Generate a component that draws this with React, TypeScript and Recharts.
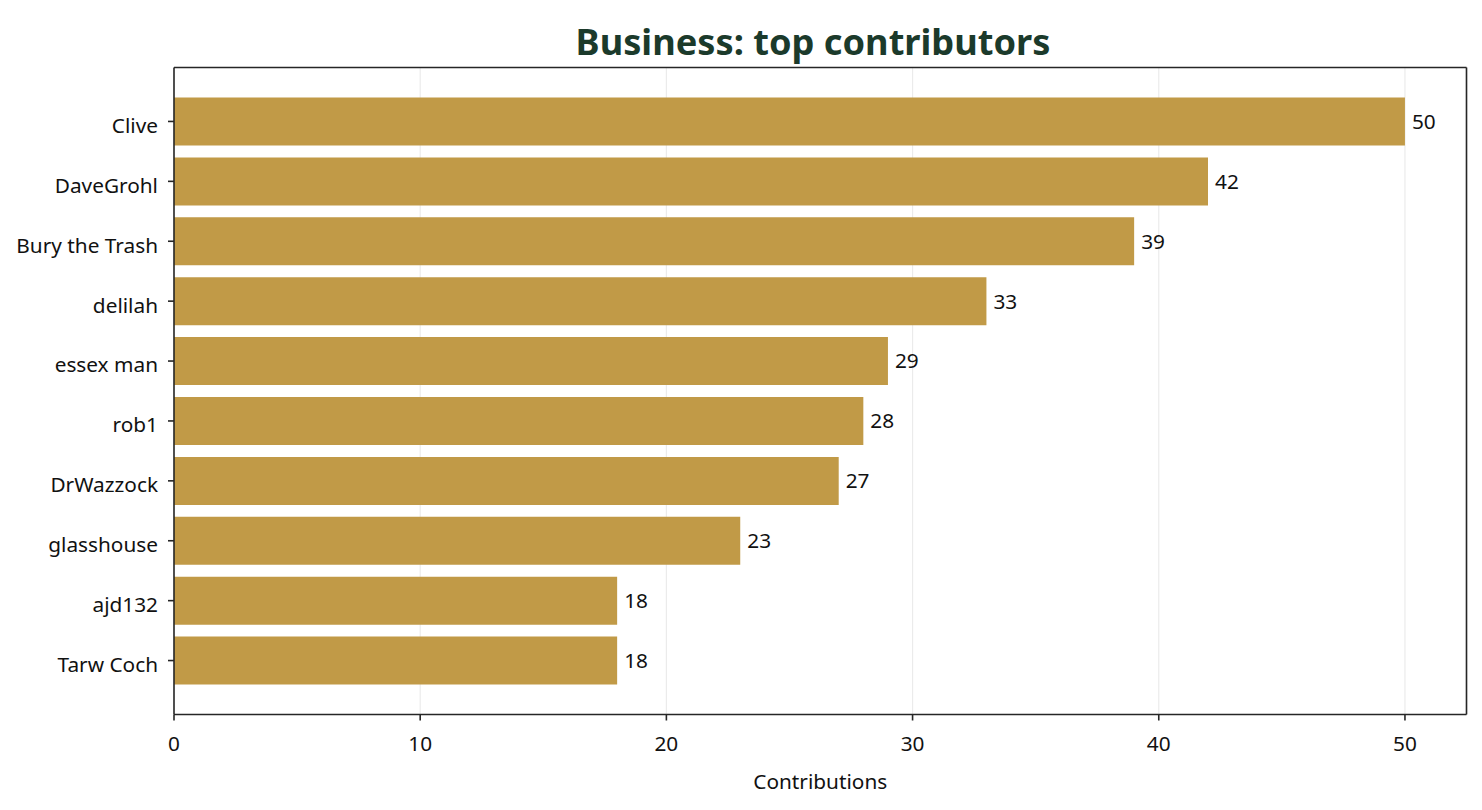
import {
  BarChart,
  Bar,
  XAxis,
  YAxis,
  CartesianGrid,
  LabelList,
} from "recharts";

const contributors = [
  "Clive",
  "DaveGrohl",
  "Bury the Trash",
  "delilah",
  "essex man",
  "rob1",
  "DrWazzock",
  "glasshouse",
  "ajd132",
  "Tarw Coch",
];
const contributions = [50, 42, 39, 33, 29, 28, 27, 23, 18, 18];
const xTicks = [0, 10, 20, 30, 40, 50];

const chartData = contributors.map((name, i) => ({
  name,
  value: contributions[i],
}));

const FONT = "'Noto Sans', sans-serif";
const AXIS = "#262626";
const tickStyle = { fontSize: 20.8, fill: "#111", fontFamily: FONT };

export default function App() {
  return (
    <div style={{ position: "absolute", left: 0, top: 0, width: 1482, height: 810, background: "#fff" }}>
      <BarChart
        width={1482}
        height={810}
        data={chartData}
        layout="vertical"
        margin={{ top: 66.5, right: 14.5, left: 0, bottom: 0 }}
        barCategoryGap="10%"
      >
        <CartesianGrid horizontal={false} stroke="#ebebeb" strokeWidth={1.2} />
        <XAxis
          type="number"
          domain={[0, 52.5]}
          ticks={xTicks}
          allowDataOverflow
          height={95.5}
          tick={tickStyle}
          tickSize={6}
          tickMargin={16}
          axisLine={{ stroke: AXIS, strokeWidth: 1.6 }}
          tickLine={{ stroke: AXIS, strokeWidth: 1.6 }}
          label={{
            value: "Contributions",
            position: "insideBottom",
            offset: 21,
            style: { fontSize: 20.8, fill: "#111", fontFamily: FONT },
          }}
        />
        <XAxis
          xAxisId="top"
          orientation="top"
          type="number"
          domain={[0, 52.5]}
          ticks={xTicks}
          height={1}
          tick={false}
          tickLine={false}
          axisLine={{ stroke: AXIS, strokeWidth: 1.6 }}
        />
        <YAxis
          type="category"
          dataKey="name"
          width={174}
          padding={{ top: 24, bottom: 24 }}
          tick={{ ...tickStyle, dy: 4 }}
          tickSize={6}
          tickMargin={10}
          interval={0}
          axisLine={{ stroke: AXIS, strokeWidth: 1.6 }}
          tickLine={{ stroke: AXIS, strokeWidth: 1.6 }}
        />
        <YAxis
          yAxisId="right"
          orientation="right"
          type="category"
          dataKey="name"
          width={1}
          tick={false}
          tickLine={false}
          axisLine={{ stroke: AXIS, strokeWidth: 1.6 }}
        />
        <Bar dataKey="value" fill="#c19a47" isAnimationActive={false}>
          <LabelList
            dataKey="value"
            position="right"
            offset={7}
            style={{ fontSize: 20.8, fill: "#111", fontFamily: FONT }}
          />
        </Bar>
      </BarChart>
      <svg
        width={1482}
        height={66}
        style={{ position: "absolute", left: 0, top: 0, pointerEvents: "none" }}
      >
        <text
          x={813}
          y={55}
          textAnchor="middle"
          fontFamily={FONT}
          fontWeight={700}
          fontSize={36.2}
          fill="#1b3a2b"
        >
          Business: top contributors
        </text>
      </svg>
    </div>
  );
}
